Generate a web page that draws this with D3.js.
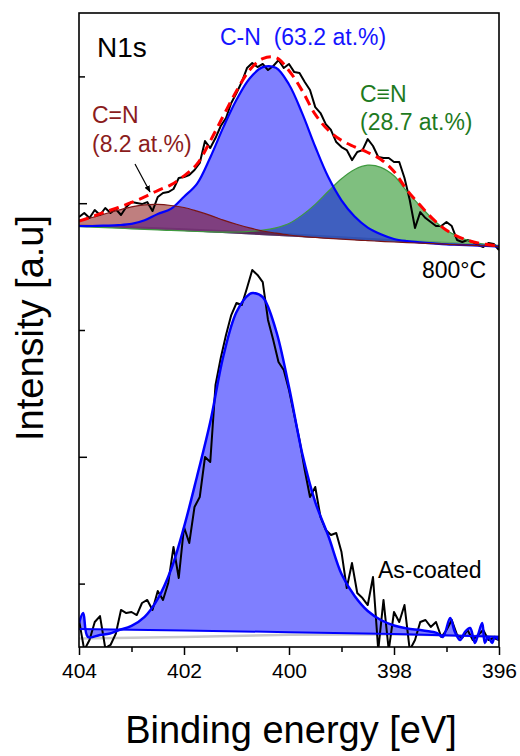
<!DOCTYPE html>
<html><head><meta charset="utf-8">
<script src="https://cdn.jsdelivr.net/npm/d3@7"></script>
<style>body{margin:0;background:#fff}svg{display:block}text{font-family:Arial,"Liberation Sans",Helvetica,sans-serif}</style>
</head><body><svg id="c" width="520" height="756"></svg>
<script>
// ---------- data ----------
const xTicksMajor = [404, 402, 400, 398, 396];
const xTicksMinor = [403, 401, 399, 397];
const yTicksMajor = [3500, 1500];
const yTicksMinor = [4500, 2500, 500];

// raw spectra energy grid (eV)
const energyRaw = [404.0,403.9,403.8,403.7,403.6,403.5,403.4,403.3,403.2,403.1,
403.0,402.9,402.8,402.7,402.6,402.5,402.4,402.3,402.2,402.1,
402.0,401.9,401.8,401.7,401.6,401.5,401.4,401.3,401.2,401.1,
401.0,400.9,400.8,400.7,400.6,400.5,400.4,400.3,400.2,400.1,
400.0,399.9,399.8,399.7,399.6,399.5,399.4,399.3,399.2,399.1,
399.0,398.9,398.8,398.7,398.6,398.5,398.4,398.3,398.2,398.1,
398.0,397.9,397.8,397.7,397.6,397.5,397.4,397.3,397.2,397.1,
397.0,396.9,396.8,396.7,396.6,396.5,396.4,396.3,396.2,396.1,396.0];

const raw800 = [3391,3423,3383,3446,3407,3462,3423,3454,3407,3470,
3509,3501,3493,3509,3438,3549,3580,3588,3612,3699,
3706,3722,3762,3817,3990,3935,4014,4109,4172,4290,
4369,4456,4566,4605,4574,4598,4550,4582,4629,4566,
4598,4534,4527,4456,4393,4258,4211,4124,4077,3982,
3943,3919,3840,3904,3919,4006,3951,3864,3856,3856,
3825,3825,3699,3525,3304,3430,3383,3352,3320,3320,
3352,3320,3210,3194,3210,3194,3170,3154,3186,3178,3131];

const rawAs = [213,-24,55,197,244,-8,16,103,292,268,
276,252,347,371,292,442,371,505,789,544,
946,820,1104,1183,1498,1459,2066,2279,2460,2618,
2713,2697,2831,2973,2934,2878,2579,2421,2248,2184,
2027,1830,1632,1396,1183,1262,1025,923,883,899,
749,465,662,426,386,331,552,-24,371,-24,
276,197,331,-24,55,197,213,158,197,79,
134,213,95,71,134,55,95,134,55,71,55];

// 800 °C fit
const energyFit = [404,403.75,403.5,403.25,403,402.75,402.5,402.25,402,401.75,401.5,401.25,401,400.75,400.5,400.25,400,399.75,399.5,399.25,399,398.75,398.5,398.25,398,397.75,397.5,397.25,397,396.75,396.5,396.25,396];
const fitCN800 = [3320,3320,3323,3327,3337,3365,3415,3455,3551,3655,3861,4100,4316,4484,4573,4568,4436,4210,3945,3704,3523,3395,3308,3255,3218,3201,3191,3183,3176,3172,3167,3163,3158];
const fitCdN800 = [3363,3387,3417,3445,3471,3487,3490,3482,3466,3437,3404,3367,3334,3305,3281,3264,3249,3238,3230,3223,3216,3210,3205,3199,3194,3189,3185,3181,3176,3172,3167,3163,3158];
const fitCtN800 = [3316,3312,3307,3303,3298,3294,3289,3285,3281,3277,3274,3272,3273,3278,3287,3306,3340,3406,3491,3594,3693,3766,3800,3783,3716,3591,3477,3370,3286,3231,3196,3176,3164];
const envelope800 = [3360,3393,3432,3466,3506,3550,3600,3645,3715,3810,3990,4190,4385,4550,4640,4648,4545,4388,4200,4075,3995,3945,3900,3845,3750,3603,3483,3372,3286,3231,3196,3176,3164];
const baseE = [404, 402, 400, 398, 396];
const base800 = [3316, 3281, 3237, 3194, 3158];
const bg800 = [3324, 3293, 3254, 3206, 3167];

// as-coated fit
const energyFitAs = [404.00,403.92,403.83,403.60,403.41,403.26,403.00,402.75,402.50,402.25,402.00,401.75,401.50,401.25,401.00,400.75,400.68,400.50,400.25,400.00,399.75,399.50,399.25,399.00,398.75,398.50,398.25,398.00,397.75,397.50,397.25,397.18,397.07,396.93,396.84,396.74,396.65,396.55,396.46,396.40,396.32,396.27,396.21,396.13,396.08,396.00];
const fitCNAs = [189,268,79,95,106,130,166,237,379,607,946,1349,1774,2295,2642,2784,2792,2760,2500,2050,1530,1143,875,576,402,284,213,170,146,134,118,110,79,229,118,55,118,150,32,95,189,32,79,32,79,55];
const baseAs = [142, 130, 117, 103, 81];
const bgAs = [67, 79, 97, 101, 83];

// ---------- chart ----------
const m = {l:79, r:499, t:13, b:647};
const x = d3.scaleLinear().domain([404, 396]).range([m.l, m.r]);
const y = d3.scaleLinear().domain([0, 5000]).range([m.b, m.t]);
const svg = d3.select("#c");
const defs = svg.append("defs");
defs.append("clipPath").attr("id","clip").append("rect")
  .attr("x", m.l).attr("y", m.t).attr("width", m.r-m.l).attr("height", m.b-m.t);
defs.append("marker").attr("id","arr").attr("viewBox","0 0 10 10").attr("refX",9).attr("refY",5)
  .attr("markerWidth",7).attr("markerHeight",7).attr("orient","auto-start-reverse")
  .attr("markerUnits","userSpaceOnUse")
  .append("path").attr("d","M0,1 L10,5 L0,9 Z").attr("fill","#000");

const pts = (E, I) => E.map((e, i) => [x(e), y(I[i])]);
const smooth = d3.line().curve(d3.curveCatmullRom.alpha(0.5));
const lin = d3.line();
function fillPath(E, I, bE, bI) {
  const top = smooth(pts(E, I));
  const bot = lin(pts(bE, bI).reverse());
  return top + "L" + bot.slice(1) + "Z";
}
const g = svg.append("g").attr("clip-path", "url(#clip)");

// --- 800 °C ---
g.append("path").attr("d", lin(pts(baseE, bg800))).attr("fill","none").attr("stroke","#c8c8c8").attr("stroke-width",2.5);
g.append("path").attr("d", fillPath(energyFit, fitCtN800, baseE, base800)).attr("fill","rgba(0,128,0,0.5)");
g.append("path").attr("d", fillPath(energyFit, fitCN800, baseE, base800)).attr("fill","rgba(0,0,255,0.5)");
g.append("path").attr("d", fillPath(energyFit, fitCdN800, baseE, base800)).attr("fill","rgba(128,0,0,0.5)");
g.append("path").attr("d", lin(pts(energyRaw, raw800))).attr("fill","none").attr("stroke","#000").attr("stroke-width",2).attr("stroke-linejoin","round");
g.append("path").attr("d", smooth(pts(energyFit, fitCtN800))).attr("fill","none").attr("stroke","#3f9a3f").attr("stroke-width",1.2);
g.append("path").attr("d", smooth(pts(energyFit, fitCN800))).attr("fill","none").attr("stroke","#0000ff").attr("stroke-width",2.2);
g.append("path").attr("d", smooth(pts(energyFit, fitCdN800))).attr("fill","none").attr("stroke","#7a1515").attr("stroke-width",1.2);
g.append("path").attr("d", smooth(pts(energyFit, envelope800))).attr("fill","none").attr("stroke","#ff0000").attr("stroke-width",3).attr("stroke-dasharray","10,6");

// --- as-coated ---
g.append("path").attr("d", lin(pts(baseE, bgAs))).attr("fill","none").attr("stroke","#c8c8c8").attr("stroke-width",2.5);
g.append("path").attr("d", fillPath(energyFitAs, fitCNAs, baseE, baseAs)).attr("fill","rgba(0,0,255,0.5)");
g.append("path").attr("d", lin(pts(energyRaw, rawAs))).attr("fill","none").attr("stroke","#000").attr("stroke-width",2).attr("stroke-linejoin","round");
g.append("path").attr("d", lin(pts(baseE, baseAs))).attr("fill","none").attr("stroke","#0000ff").attr("stroke-width",2);
g.append("path").attr("d", smooth(pts(energyFitAs, fitCNAs))).attr("fill","none").attr("stroke","#0000ff").attr("stroke-width",2.5);

// --- axes ---
const axG = svg.append("g");
const xMaj = axG.append("g").attr("transform", `translate(0,${m.b})`)
  .call(d3.axisBottom(x).tickValues(xTicksMajor).tickSize(8).tickPadding(8).tickFormat(d3.format("d")));
const xMin = axG.append("g").attr("transform", `translate(0,${m.b})`)
  .call(d3.axisBottom(x).tickValues(xTicksMinor).tickSize(5).tickFormat(""));
const yMaj = axG.append("g").attr("transform", `translate(${m.l},0)`)
  .call(d3.axisRight(y).tickValues(yTicksMajor).tickSize(8).tickFormat(""));
const yMin = axG.append("g").attr("transform", `translate(${m.l},0)`)
  .call(d3.axisRight(y).tickValues(yTicksMinor).tickSize(6).tickFormat(""));
axG.selectAll(".domain").remove();
axG.selectAll(".tick line").attr("stroke","#000").attr("stroke-width",1.5);
xMaj.selectAll("text").attr("font-size",21).attr("fill","#000").style("font-family",'Arial,"Liberation Sans",sans-serif');
svg.append("rect").attr("x",m.l).attr("y",m.t).attr("width",m.r-m.l).attr("height",m.b-m.t)
  .attr("fill","none").attr("stroke","#000").attr("stroke-width",1.6);

// --- axis titles ---
svg.append("text").attr("x",291).attr("y",743).attr("text-anchor","middle").attr("font-size",38).attr("fill","#000").text("Binding energy [eV]");
svg.append("text").attr("transform","translate(43,328) rotate(-90)").attr("text-anchor","middle").attr("font-size",38).attr("fill","#000").text("Intensity [a.u]");

// --- annotations ---
const ann = (tx, ty, s, size, col) => svg.append("text").attr("x",tx).attr("y",ty).attr("font-size",size).attr("fill",col).style("white-space","pre").text(s);
ann(97, 57, "N1s", 28, "#000");
ann(220, 45, "C-N  (63.2 at.%)", 23, "#1414ff");
ann(92, 123, "C=N", 23, "#8b1c1c");
ann(92, 152, "(8.2 at.%)", 23, "#8b1c1c");
ann(360, 102, "C\u2261N", 23, "#1e7a1e");
ann(360, 130, "(28.7 at.%)", 23, "#1e7a1e");
ann(422, 278, "800\u00b0C", 23, "#000");
ann(378, 578, "As-coated", 23, "#000");
svg.append("line").attr("x1",135).attr("y1",164).attr("x2",150).attr("y2",192)
  .attr("stroke","#000").attr("stroke-width",1.2).attr("marker-end","url(#arr)");
</script></body></html>
